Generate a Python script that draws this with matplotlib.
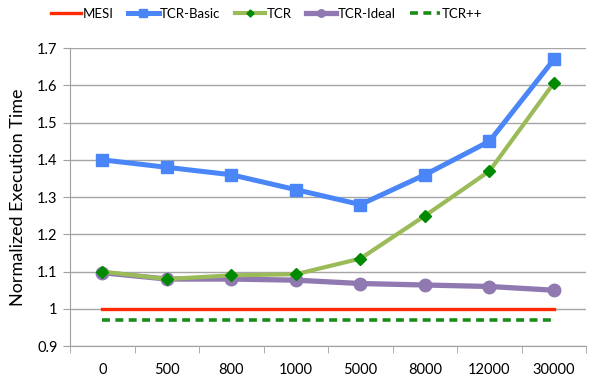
import matplotlib
matplotlib.use("Agg")
import matplotlib.pyplot as plt
import numpy as np

plt.rcParams['font.family'] = ['Lato', 'DejaVu Sans']

categories = ['0', '500', '800', '1000', '5000', '8000', '12000', '30000']
mesi = [1.0, 1.0, 1.0, 1.0, 1.0, 1.0, 1.0, 1.0]
tcr_basic = [1.40, 1.38, 1.36, 1.32, 1.28, 1.36, 1.45, 1.67]
tcr = [1.10, 1.08, 1.09, 1.093, 1.135, 1.25, 1.37, 1.607]
tcr_ideal = [1.097, 1.08, 1.08, 1.077, 1.068, 1.064, 1.06, 1.05]
tcr_pp = [0.97, 0.97, 0.97, 0.97, 0.97, 0.97, 0.97, 0.97]

x = np.arange(len(categories))

fig = plt.figure(figsize=(5.94, 3.82), dpi=100)
ax = fig.add_axes([0.118, 0.094, 0.869, 0.780])

ax.plot(x, mesi, color='#FF2A00', lw=2.4, label='MESI', zorder=3)
ax.plot(x, tcr_basic, color='#4A86F7', lw=3.6, marker='s', ms=9,
        label='TCR-Basic', zorder=4)
ax.plot(x, tcr, color='#9BBB59', lw=3.0, marker='D', ms=6,
        mfc='#008A00', mec='#008A00', label='TCR', zorder=5)
ax.plot(x, tcr_ideal, color='#9079B0', lw=3.8, marker='o', ms=9,
        label='TCR-Ideal', zorder=4)
ax.plot(x, tcr_pp, color='#1A8C1A', lw=2.6, ls=(0, (2.2, 1.5)),
        label='TCR++', zorder=3)

ax.set_xlim(-0.5, 7.5)
ax.set_ylim(0.9, 1.7)
ax.set_yticks(np.arange(0.9, 1.71, 0.1))
ax.set_yticklabels(['0.9', '1', '1.1', '1.2', '1.3', '1.4', '1.5', '1.6', '1.7'])
ax.set_xticks(x)
ax.set_xticklabels(categories)
ax.set_xticks(np.arange(-0.5, 7.6, 1), minor=True)
ax.tick_params(axis='x', which='major', length=0, pad=12, labelsize=10.5)
ax.tick_params(axis='x', which='minor', length=5, color='#A0A0A0', direction='out')
ax.tick_params(axis='y', length=5, color='#A0A0A0', labelsize=10.5, pad=4)
ax.grid(axis='y', color='#A6A6A6', lw=1.0)
ax.set_axisbelow(True)
for s in ['top', 'right']:
    ax.spines[s].set_visible(False)
for s in ['left', 'bottom']:
    ax.spines[s].set_color('#A0A0A0')
ax.set_ylabel('Normalized Execution Time', fontsize=13, labelpad=8)

fig.legend(loc='upper center', bbox_to_anchor=(0.449, 1.01), ncol=5,
           frameon=False, fontsize=9.5, handlelength=2.3, columnspacing=1.1,
           handletextpad=0.1, markerscale=0.6)

fig.savefig('out.png', dpi=100)
